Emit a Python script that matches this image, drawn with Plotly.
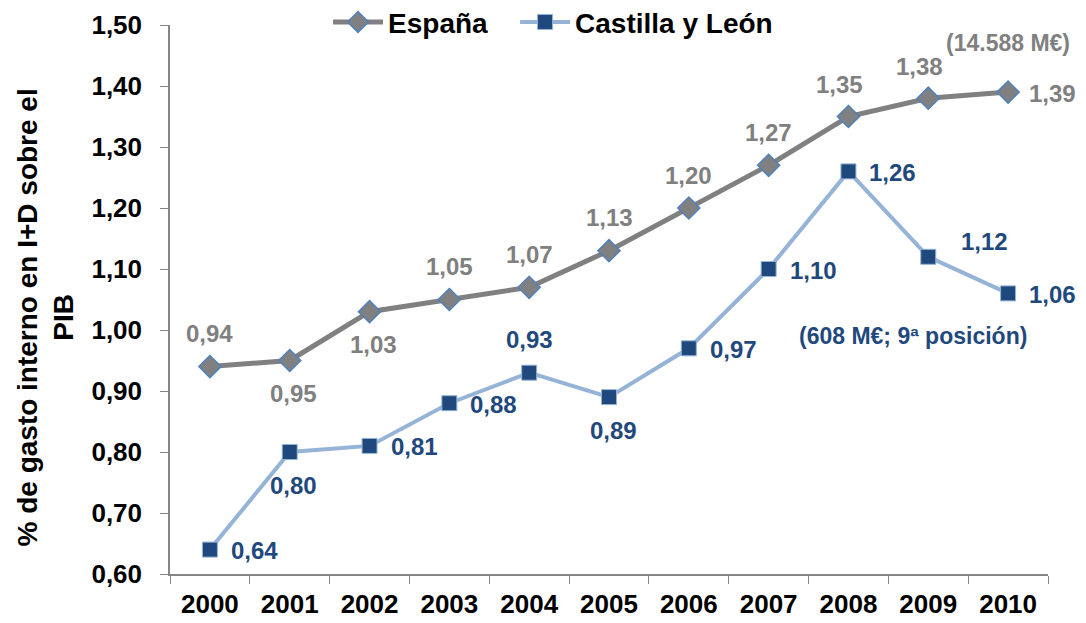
import plotly.graph_objects as go

years = ["2000", "2001", "2002", "2003", "2004", "2005", "2006", "2007", "2008", "2009", "2010"]
espana = [0.94, 0.95, 1.03, 1.05, 1.07, 1.13, 1.20, 1.27, 1.35, 1.38, 1.39]
cyl = [0.64, 0.80, 0.81, 0.88, 0.93, 0.89, 0.97, 1.10, 1.26, 1.12, 1.06]

# label placement (style): "t" above, "b" below, "r" right, "tr" up-right, "tl" up-left
espana_pos = ["t", "b", "b", "t", "t", "t", "t", "t", "tl", "tl", "r"]
cyl_pos = ["r", "b", "r", "r", "t", "b", "r", "r", "r", "tr", "r"]

FONT = "Liberation Sans, Arial, sans-serif"
GRAY = "#808080"
DARK = "#1F497D"
LIGHT = "#95B3D7"
AXIS = "#868686"

fig = go.Figure()
fig.add_trace(go.Scatter(
    x=years, y=espana, name="España", mode="lines+markers", legend="legend",
    line=dict(color=GRAY, width=5),
    marker=dict(symbol="diamond", size=17, color=GRAY, line=dict(color="#4F81BD", width=1.5)),
    cliponaxis=False,
))
fig.add_trace(go.Scatter(
    x=years, y=cyl, name="Castilla y León", mode="lines+markers", legend="legend2",
    line=dict(color=LIGHT, width=4),
    marker=dict(symbol="square", size=15, color=DARK, line=dict(color=LIGHT, width=1)),
    cliponaxis=False,
))

annotations = []


def label(i, v, pos, color):
    txt = "<b>" + f"{v:.2f}".replace(".", ",") + "</b>"
    kw = dict(x=i, y=v, xref="x", yref="y", text=txt, showarrow=False,
              font=dict(family=FONT, size=24, color=color))
    if pos == "t":
        kw.update(xanchor="center", yanchor="middle", yshift=33)
    elif pos == "tl":
        kw.update(xanchor="center", yanchor="middle", yshift=32, xshift=-9)
    elif pos == "b":
        kw.update(xanchor="center", yanchor="middle", yshift=-33, xshift=4)
    elif pos == "r":
        kw.update(xanchor="left", yanchor="middle", xshift=19, yshift=-1)
    elif pos == "tr":
        kw.update(xanchor="left", yanchor="middle", xshift=31, yshift=15)
    annotations.append(kw)


for i, (v, p) in enumerate(zip(espana, espana_pos)):
    label(i, v, p, GRAY)
for i, (v, p) in enumerate(zip(cyl, cyl_pos)):
    label(i, v, p, DARK)

annotations.append(dict(x=10, y=1.50, xref="x", yref="y", text="<b>(14.588 M€)</b>", showarrow=False,
                        xanchor="center", yanchor="middle", yshift=-18,
                        font=dict(family=FONT, size=23, color=GRAY)))
annotations.append(dict(x=9, y=1.00, xref="x", yref="y", text="<b>(608 M€; 9ª posición)</b>", showarrow=False,
                        xanchor="center", yanchor="middle", xshift=-15, yshift=-6,
                        font=dict(family=FONT, size=23, color=DARK)))
# y-axis title
annotations.append(dict(x=0, y=0.5, xref="paper", yref="paper", textangle=-90,
                        text="<b>% de gasto interno en I+D sobre el<br>PIB</b>", showarrow=False,
                        xanchor="center", yanchor="middle", xshift=-125, yshift=-18,
                        font=dict(family=FONT, size=28, color="black")))

legend_common = dict(orientation="h", xanchor="left", y=1.005, yanchor="middle",
                     font=dict(family=FONT, size=28, color="black", weight="bold"),
                     bgcolor="rgba(0,0,0,0)", itemwidth=50)

fig.update_layout(
    width=1078, height=615,
    margin=dict(l=162, r=38, t=17, b=49, autoexpand=False),
    paper_bgcolor="white", plot_bgcolor="white",
    separators=", ",
    font=dict(family=FONT, size=26, color="black"),
    showlegend=True,
    annotations=annotations,
    legend=dict(x=0.18, **legend_common),
    legend2=dict(x=0.393, **legend_common),
    xaxis=dict(type="category", range=[-0.5, 10.5], tickson="boundaries", ticks="outside", ticklen=8,
               tickcolor=AXIS, showline=True, linecolor=AXIS, linewidth=1.5, showgrid=False,
               ticklabelstandoff=6,
               tickfont=dict(family=FONT, size=26, color="black", weight="bold")),
    yaxis=dict(range=[0.6, 1.5], dtick=0.1, tickformat=".2f", ticks="outside", ticklen=8,
               tickcolor=AXIS, showline=True, linecolor=AXIS, linewidth=1.5, showgrid=False, zeroline=False,
               ticklabelstandoff=13,
               tickfont=dict(family=FONT, size=26, color="black", weight="bold")),
)

fig.write_html("out.html")
